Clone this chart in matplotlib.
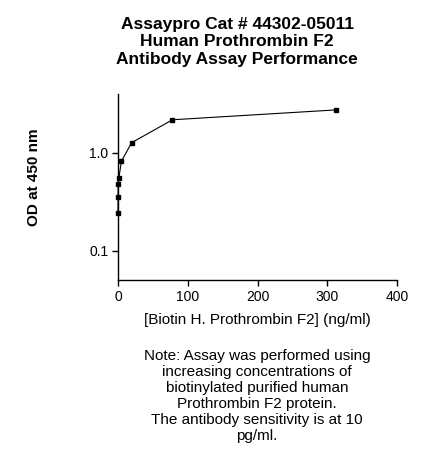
import numpy as np
import matplotlib
matplotlib.use("Agg")
import matplotlib.pyplot as plt
from matplotlib.ticker import FixedLocator, FixedFormatter, NullLocator

plt.rcParams['font.family'] = ['Liberation Sans', 'DejaVu Sans']

# serial dilution of biotinylated prothrombin F2 (ng/ml) and OD readings
conc = [312.5, 78.1, 19.5, 4.88, 1.22, 0.305, 0.076, 0.019]
od = [2.75, 2.18, 1.27, 0.82, 0.55, 0.48, 0.35, 0.245]

x_ticks = [0, 100, 200, 300, 400]
y_ticks = [0.1, 1.0]
y_tick_labels = ["0.1", "1.0"]

title = "Assaypro Cat # 44302-05011\nHuman Prothrombin F2\nAntibody Assay Performance"
note = ("Note: Assay was performed using\nincreasing concentrations of\n"
        "biotinylated purified human\nProthrombin F2 protein.\n"
        "The antibody sensitivity is at 10\npg/ml.")

fig = plt.figure(figsize=(4.41, 4.66), dpi=100)
ax = fig.add_axes([118 / 441, 186 / 466, 279 / 441, 186 / 466])

ax.plot(conc, od, color="black", lw=0.8, marker="s", ms=3.2,
        markerfacecolor="black", markeredgecolor="black", clip_on=False)

ax.set_yscale("log")
ax.set_xlim(0, 400)
ax.set_ylim(0.05, 4)

ax.xaxis.set_major_locator(FixedLocator(x_ticks))
ax.yaxis.set_major_locator(FixedLocator(y_ticks))
ax.yaxis.set_major_formatter(FixedFormatter(y_tick_labels))
ax.yaxis.set_minor_locator(NullLocator())

for s in ["top", "right"]:
    ax.spines[s].set_visible(False)
for s in ["left", "bottom"]:
    ax.spines[s].set_linewidth(1.0)

ax.tick_params(direction="out", length=4, width=1.0, labelsize=10, pad=3)

ax.set_xlabel("[Biotin H. Prothrombin F2] (ng/ml)", fontsize=11, labelpad=7)

fig.text(34 / 441, 1 - 177 / 466, "OD at 450 nm", rotation=90, fontsize=11,
         fontweight="bold", ha="center", va="center")

fig.text(237 / 441, 1 - 42 / 466, title, fontsize=12.5, fontweight="bold",
         ha="center", va="center", linespacing=1.22)

fig.text(257 / 441, 1 - 396 / 466, note, fontsize=11, ha="center",
         va="center", linespacing=1.18)

fig.savefig("out.png", dpi=100)
